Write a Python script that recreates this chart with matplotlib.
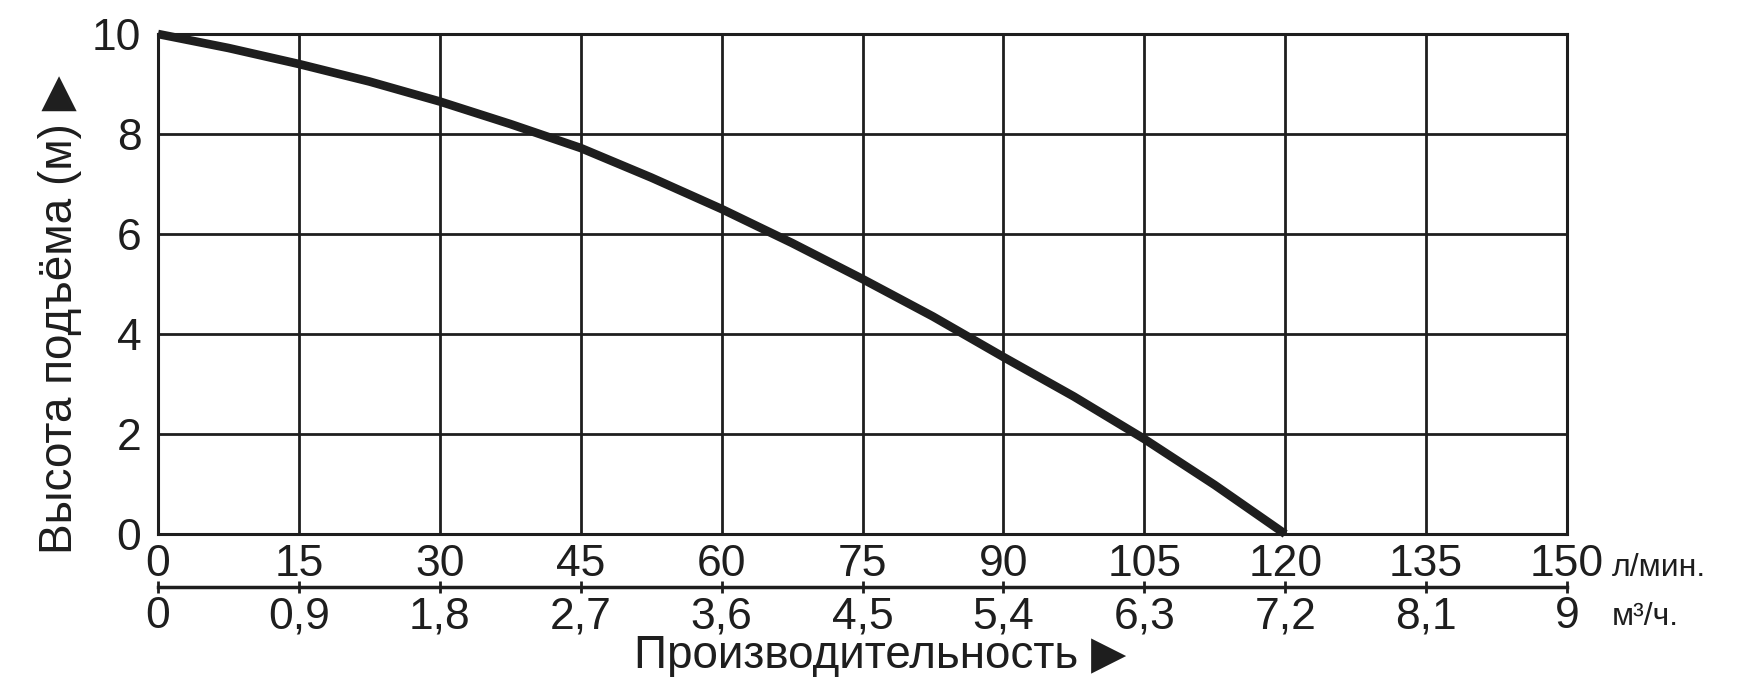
import matplotlib.pyplot as plt

plt.rcParams['font.family'] = ['Liberation Sans', 'DejaVu Sans']

# pump curve
flow_lpm = [0, 7.5, 15, 22.5, 30, 37.5, 45, 52.5, 60, 67.5, 75, 82.5, 90, 97.5, 105, 112.5, 120]
head_m = [10, 9.72, 9.4, 9.05, 8.65, 8.2, 7.72, 7.13, 6.5, 5.82, 5.1, 4.35, 3.54, 2.75, 1.9, 0.98, 0]

lpm_ticks = [0, 15, 30, 45, 60, 75, 90, 105, 120, 135, 150]
m3h_ticks = [0, 0.9, 1.8, 2.7, 3.6, 4.5, 5.4, 6.3, 7.2, 8.1, 9]
m3h_labels = ['0', '0,9', '1,8', '2,7', '3,6', '4,5', '5,4', '6,3', '7,2', '8,1', '9']
head_ticks = [0, 2, 4, 6, 8, 10]

ink = '#1e1e1e'
W, H = 1755, 677
fig = plt.figure(figsize=(W / 100, H / 100), dpi=100)

left, right, top, bottom = 158, 1567, 34, 534
ax = fig.add_axes([left / W, 1 - bottom / H, (right - left) / W, (bottom - top) / H])
ax.set_xlim(0, 150)
ax.set_ylim(0, 10)
ax.set_xticks(lpm_ticks)
ax.set_yticks(head_ticks)
ax.grid(True, color=ink, lw=2)
ax.tick_params(length=0, labelsize=32, colors=ink)
ax.tick_params(axis='x', pad=7)
ax.tick_params(axis='y', pad=12)
for s in ax.spines.values():
    s.set_linewidth(2.2)
    s.set_color(ink)
ax.plot(flow_lpm, head_m, color=ink, lw=6.2, clip_on=False, solid_capstyle='butt', zorder=5)

# second scale in m3/h
ax2 = fig.add_axes([left / W, 1 - 587 / H, (right - left) / W, 0.0001])
ax2.set_xlim(0, 9)
ax2.set_xticks(m3h_ticks)
ax2.set_xticklabels(m3h_labels)
ax2.set_yticks([])
ax2.patch.set_visible(False)
for k in ['top', 'left', 'right']:
    ax2.spines[k].set_visible(False)
ax2.spines['bottom'].set_linewidth(2.5)
ax2.spines['bottom'].set_color(ink)
ax2.tick_params(axis='x', direction='inout', length=9, width=2, colors=ink, labelsize=32, pad=2)

fig.text(1612 / W, 1 - 568 / H, 'л/мин.', fontsize=23, color=ink, ha='left', va='center')
fig.text(1612 / W, 1 - 617 / H, 'м³/ч.', fontsize=23, color=ink, ha='left', va='center')

fig.text(60 / W, 1 - 315 / H, 'Высота подъёма (м) ▶', rotation=90, fontsize=33, color=ink,
         ha='center', va='center')
fig.text(880 / W, 1 - 656 / H, 'Производительность ▶', fontsize=33, color=ink,
         ha='center', va='center')

fig.savefig('out.png', dpi=100, facecolor='white')
